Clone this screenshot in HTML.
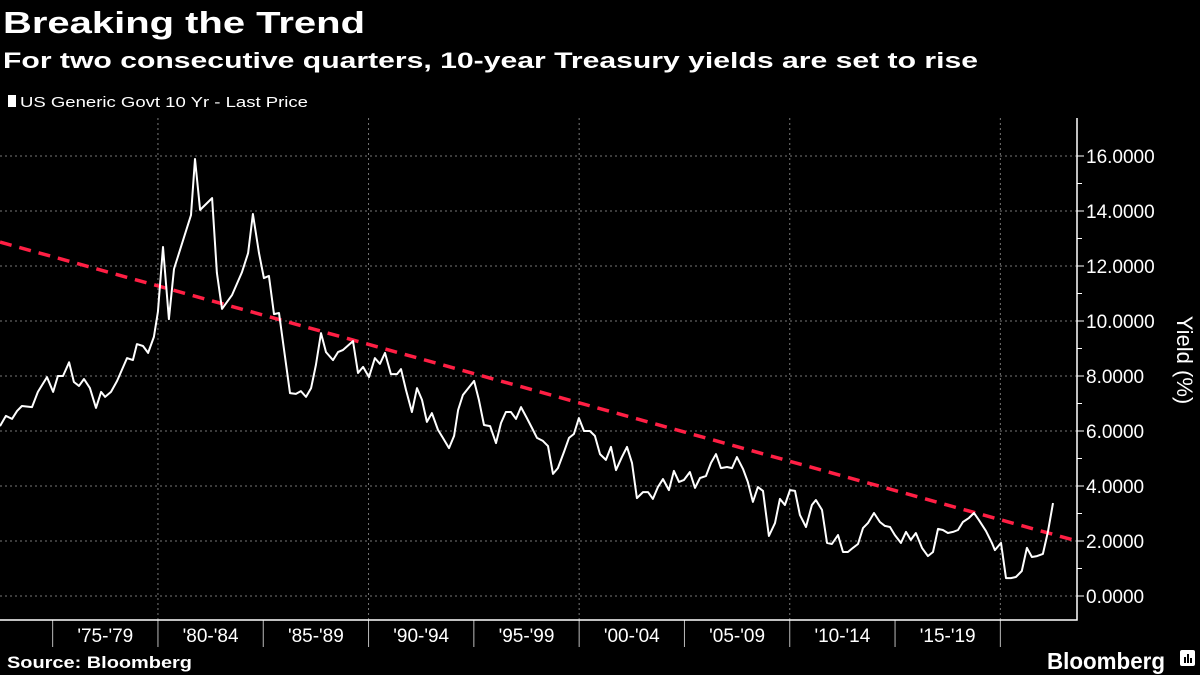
<!DOCTYPE html>
<html><head><meta charset="utf-8"><style>
html,body{margin:0;padding:0;background:#000;}
body{width:1200px;height:675px;overflow:hidden;font-family:"Liberation Sans",sans-serif;color:#fff;}
svg{display:block}
</style></head><body>
<svg id="chart" width="1200" height="675" viewBox="0 0 1200 675" xmlns="http://www.w3.org/2000/svg">
<text x="3" y="33" fill="#fff" font-family="Liberation Sans, sans-serif" font-weight="bold" font-size="31" textLength="362" lengthAdjust="spacingAndGlyphs">Breaking the Trend</text>
<text x="3" y="68" fill="#fff" font-family="Liberation Sans, sans-serif" font-weight="bold" font-size="22" textLength="975" lengthAdjust="spacingAndGlyphs">For two consecutive quarters, 10-year Treasury yields are set to rise</text>
<rect x="8" y="95" width="8" height="12" fill="#fff"/>
<text x="20" y="107" fill="#fff" font-size="15" textLength="288" lengthAdjust="spacingAndGlyphs">US Generic Govt 10 Yr - Last Price</text>
<g id="grid"></g><g id="axes"></g><g id="marks"></g>
<text transform="translate(1177,360) rotate(90)" text-anchor="middle" fill="#fff" font-size="22">Yield (%)</text>
<text x="7" y="668" fill="#fff" font-weight="bold" font-size="17" textLength="185" lengthAdjust="spacingAndGlyphs">Source: Bloomberg</text>
<text x="1047" y="669" fill="#fff" font-weight="bold" font-size="23" textLength="118" lengthAdjust="spacingAndGlyphs">Bloomberg</text>
<g><rect x="1180" y="650" width="15" height="16" rx="2" fill="#fff"/><rect x="1184" y="657" width="2" height="6" fill="#000"/><rect x="1187" y="654" width="2" height="9" fill="#000"/><rect x="1190" y="658" width="2" height="5" fill="#000"/></g>
</svg>
<script>
const years=[1972.50,1972.78,1973.07,1973.31,1973.54,1974.02,1974.30,1974.73,1975.02,1975.25,1975.49,1975.78,1976.01,1976.25,1976.49,1976.77,1977.06,1977.30,1977.49,1977.77,1978.06,1978.29,1978.53,1978.81,1979.00,1979.29,1979.53,1979.81,1980.00,1980.24,1980.52,1980.76,1981.57,1981.76,1982.00,1982.57,1982.80,1983.04,1983.52,1983.99,1984.28,1984.51,1984.80,1985.03,1985.27,1985.51,1985.75,1986.27,1986.55,1986.79,1987.03,1987.27,1987.50,1987.74,1987.98,1988.31,1988.55,1988.79,1989.26,1989.50,1989.74,1990.02,1990.30,1990.54,1990.78,1991.06,1991.35,1991.54,1991.78,1992.06,1992.30,1992.54,1992.77,1993.01,1993.30,1993.53,1993.82,1994.06,1994.25,1994.48,1995.01,1995.24,1995.48,1995.77,1996.05,1996.29,1996.52,1996.76,1997.00,1997.24,1997.52,1997.76,1998.00,1998.28,1998.52,1998.76,1998.99,1999.28,1999.52,1999.75,1999.99,2000.23,2000.51,2000.75,2000.99,2001.27,2001.51,2001.75,2002.03,2002.27,2002.51,2002.74,2003.03,2003.27,2003.50,2003.74,2003.98,2004.26,2004.50,2004.74,2004.98,2005.26,2005.50,2005.74,2006.02,2006.26,2006.50,2006.73,2007.02,2007.26,2007.49,2007.78,2008.01,2008.25,2008.49,2008.73,2009.01,2009.30,2009.53,2009.77,2010.01,2010.25,2010.48,2010.77,2011.05,2011.24,2011.53,2011.77,2012.00,2012.29,2012.53,2012.76,2013.00,2013.24,2013.48,2013.71,2014.00,2014.28,2014.52,2014.76,2014.99,2015.28,2015.52,2015.75,2015.99,2016.28,2016.56,2016.80,2017.04,2017.27,2017.51,2017.75,2017.99,2018.22,2018.51,2018.75,2018.98,2019.32,2019.60,2019.74,2020.03,2020.27,2020.50,2020.74,2021.02,2021.26,2021.50,2021.74,2022.02,2022.26,2022.50];
const yields=[6.18,6.55,6.44,6.73,6.91,6.87,7.42,7.96,7.42,8.00,8.00,8.50,7.78,7.64,7.89,7.56,6.84,7.42,7.24,7.42,7.82,8.22,8.65,8.58,9.16,9.09,8.84,9.42,10.33,12.69,10.07,11.89,13.85,15.89,14.04,14.47,11.75,10.44,10.95,11.78,12.47,13.89,12.47,11.56,11.64,10.25,10.29,7.38,7.35,7.45,7.24,7.56,8.40,9.56,8.87,8.58,8.87,8.95,9.27,8.11,8.33,7.96,8.65,8.44,8.84,8.07,8.07,8.25,7.49,6.69,7.56,7.13,6.33,6.65,6.04,5.75,5.38,5.82,6.76,7.31,7.82,7.13,6.22,6.18,5.56,6.29,6.69,6.69,6.44,6.87,6.47,6.11,5.75,5.64,5.45,4.44,4.65,5.24,5.75,5.89,6.47,6.00,6.00,5.82,5.16,4.95,5.42,4.58,5.05,5.42,4.84,3.56,3.78,3.78,3.53,3.96,4.25,3.85,4.55,4.15,4.22,4.51,3.93,4.29,4.36,4.84,5.16,4.65,4.69,4.65,5.05,4.62,4.15,3.42,3.96,3.82,2.18,2.65,3.53,3.31,3.85,3.82,2.95,2.51,3.31,3.49,3.13,1.93,1.89,2.22,1.60,1.60,1.75,1.89,2.47,2.65,3.02,2.69,2.55,2.51,2.22,1.93,2.33,2.04,2.29,1.75,1.45,1.60,2.44,2.40,2.29,2.33,2.40,2.69,2.84,3.02,2.76,2.36,1.93,1.67,1.93,0.65,0.65,0.69,0.91,1.75,1.42,1.45,1.53,2.33,3.38];
const trendYears=[1972.5,2023.64];
const trendValues=[12.87,2.0];
const yTicks=[0,2,4,6,8,10,12,14,16];
const xBounds=[1975,1980,1985,1990,1995,2000,2005,2010,2015,2020];
const xLabels=["'75-'79","'80-'84","'85-'89","'90-'94","'95-'99","'00-'04","'05-'09","'10-'14","'15-'19"];

const NS="http://www.w3.org/2000/svg";
const X0=1972.5,PX=21.06,AXR=1077,AXB=620;
const xs=yr=>(yr-X0)*PX;
const ys=v=>596-v*27.5;
function mk(tag,attrs,parent){const e=document.createElementNS(NS,tag);for(const k in attrs)e.setAttribute(k,attrs[k]);parent.appendChild(e);return e;}
const grid=document.getElementById('grid'),axes=document.getElementById('axes'),marks=document.getElementById('marks');

yTicks.forEach(v=>{
  const g=mk('line',{x1:0,x2:AXR,y1:ys(v),y2:ys(v),stroke:'#777','stroke-width':1,'stroke-dasharray':'2,3'},grid);
  
  
  const t=mk('line',{x1:AXR,x2:AXR+7,y1:ys(v),y2:ys(v),stroke:'#fff','stroke-width':1},axes);
  
  
  const lb=mk('text',{x:AXR+9,y:ys(v)+7,fill:'#fff','font-size':19},axes);
  lb.textContent=v.toFixed(4);
  
  
  if(v<16){
    const m=mk('line',{x1:AXR,x2:AXR+5,y1:ys(v+1),y2:ys(v+1),stroke:'#fff','stroke-width':1},axes);
    
    
  }
});
xBounds.forEach((yr,i)=>{
  if(i%2===1){
    const g=mk('line',{x1:xs(yr),x2:xs(yr),y1:118,y2:AXB,stroke:'#777','stroke-width':1,'stroke-dasharray':'2,3'},grid);
    
    
  }
  const s=mk('line',{x1:xs(yr),x2:xs(yr),y1:AXB,y2:647,stroke:'#bbb','stroke-width':1},axes);
  
  
});
xLabels.forEach((l,i)=>{
  const t=mk('text',{x:(xs(xBounds[i])+xs(xBounds[i+1]))/2,y:642,fill:'#fff','font-size':19,'text-anchor':'middle'},axes);
  t.textContent=l;
  
  
});
const ax=mk('path',{d:`M0 ${AXB} H${AXR} V118`,fill:'none',stroke:'#fff','stroke-width':1.5},axes);



const tr=mk('line',{x1:xs(trendYears[0]),y1:ys(trendValues[0]),x2:xs(trendYears[1]),y2:ys(trendValues[1]),stroke:'#ff1f44','stroke-width':3.5,'stroke-dasharray':'12,8'},marks);



let d='';
years.forEach((yr,i)=>{d+=(i?'L':'M')+xs(yr).toFixed(1)+' '+ys(yields[i]).toFixed(1);});
const ln=mk('path',{d:d,fill:'none',stroke:'#fff','stroke-width':2,'stroke-linejoin':'round'},marks);


</script>
</body></html>
